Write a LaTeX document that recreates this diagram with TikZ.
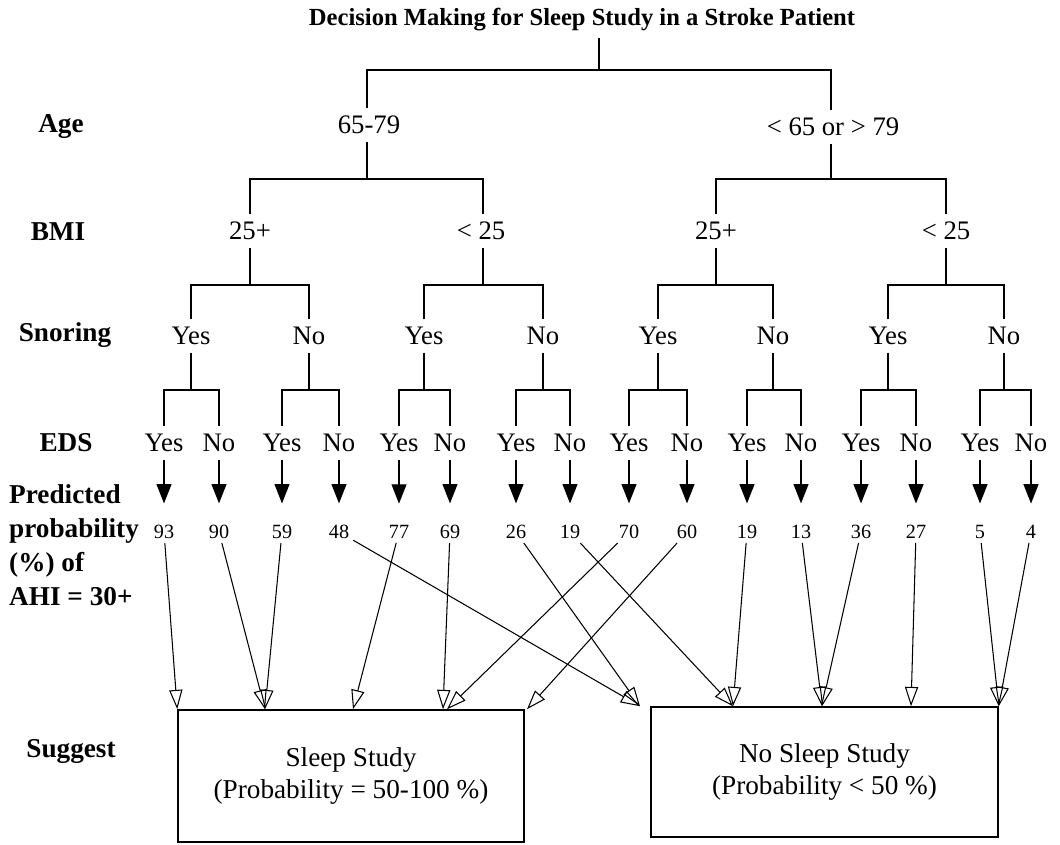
\documentclass[tikz,border=0pt]{standalone}
\usepackage{fontspec}
\setmainfont{Liberation Serif}
\usepackage{tikz}
\usetikzlibrary{arrows.meta}

\begin{document}
\begin{tikzpicture}[x=0.02cm,y=-0.02cm,line width=0.8pt,
  branch/.style={font=\fontsize{15.2}{18}\selectfont,inner sep=4pt},
  factor/.style={font=\bfseries\fontsize{15.5}{19.3}\selectfont,inner sep=2pt},
  pct/.style={font=\fontsize{11.5}{13}\selectfont,inner sep=2pt},
  fillarrow/.style={-{Triangle[length=11pt,width=8.5pt]},line width=0.7pt,shorten >=10pt},
  openarrow/.style={-{Triangle[open,length=11pt,width=7.5pt]},line width=0.6pt},
  suggestbox/.style={draw,line width=0.9pt,align=center,font=\fontsize{15.5}{18.5}\selectfont}]
\useasboundingbox (0,0) rectangle (1060,844);

\node[font=\bfseries\fontsize{14}{16}\selectfont] (title) at (582,20) {Decision Making for Sleep Study in a Stroke Patient};

% row titles
\node[factor] (age) at (61,127) {Age};
\node[factor] (bmi) at (58,232) {BMI};
\node[factor] (snore) at (65,335) {Snoring};
\node[factor] (eds) at (66,443) {EDS};
\node[factor,anchor=west,align=left] (pred) at (5,545) {Predicted\\probability\\(\%) of\\AHI = 30+};
\node[factor] (sugg) at (71,751) {Suggest};

% tree
\coordinate (top) at (599,70);
\coordinate (l2) at (0,179);
\coordinate (l3) at (0,285);
\coordinate (l4) at (0,390);
\node[branch] (a1) at (369,125) {65-79};
\node[branch] (a2) at (833,127) {< 65 or > 79};
\node[branch] (b1) at (250,231) {25+};
\node[branch] (b2) at (481,231) {< 25};
\node[branch] (b3) at (716,231) {25+};
\node[branch] (b4) at (946,231) {< 25};
\foreach \x/\t [count=\i] in {191/Yes,309/No,424/Yes,543/No,658/Yes,773/No,888/Yes,1004/No}
  \node[branch] (s\i) at (\x,336) {\t};
\foreach \x/\t [count=\i] in {164/Yes,219/No,282/Yes,339/No,399/Yes,450/No,516/Yes,570/No,
                              629/Yes,687/No,747/Yes,801/No,861/Yes,916/No,980/Yes,1031/No}
  \node[branch] (e\i) at (\x,443) {\t};

\draw (title.south -| top) -- (top);
\draw (a1.north -| 367,0) |- (top) -| (a2.north -| 831,0);
\draw (a1.south -| 367,0) -- (367,0 |- l2);
\draw (a2.south -| 831,0) -- (831,0 |- l2);
\draw (b1.north) |- (367,0 |- l2) -| (b2.north -| 483,0);
\draw (b3.north) |- (831,0 |- l2) -| (b4.north);
\draw (b2.south -| 483,0) -- (483,0 |- l3);
\foreach \p/\l/\r/\lv in {b1/s1/s2/l3,b3/s5/s6/l3,b4/s7/s8/l3,
    s1/e1/e2/l4,s2/e3/e4/l4,s3/e5/e6/l4,s4/e7/e8/l4,
    s5/e9/e10/l4,s6/e11/e12/l4,s7/e13/e14/l4,s8/e15/e16/l4}
  \draw (\p.south) -- (\p.south |- \lv) (\l.north) |- (\p.south |- \lv) -| (\r.north);
\draw (s3.north) |- (483,0 |- l3) -| (s4.north);

% predicted probabilities
\foreach \v [count=\i] in {93,90,59,48,77,69,26,19,70,60,19,13,36,27,5,4}{
  \node[pct] (n\i) at (e\i |- 0,532) {\v};
  \draw[fillarrow] (e\i) -- (n\i);
}

% suggestions
\node[suggestbox,minimum width=6.92cm,minimum height=2.64cm] (study) at (351,776)
  {Sleep Study\\(Probability = 50-100 \%)};
\node[suggestbox,minimum width=6.94cm,minimum height=2.6cm] (nostudy) at (824.5,772)
  {No Sleep Study\\(Probability < 50 \%)};

\coordinate (t1) at (study.north west);
\foreach \n/\x in {t2/265,t3/353,t4/443,t5/447,t6/527}
  \coordinate (\n) at (\x,0 |- study.north);
\foreach \n/\x in {u1/640,u2/733,u3/822,u4/911}
  \coordinate (\n) at (\x,0 |- nostudy.north);
\coordinate (u5) at (nostudy.north east);

\foreach \a/\b in {n1/t1,n2/t2,n3/t2,n4/u1,n5/t3,n6/t4,n7/u1,n8/u2,
                   n9/t5,n10/t6,n11/u2,n12/u3,n13/u3,n14/u4,n15/u5,n16/u5}
  \draw[openarrow] (\a) -- (\b);
\end{tikzpicture}
\end{document}
